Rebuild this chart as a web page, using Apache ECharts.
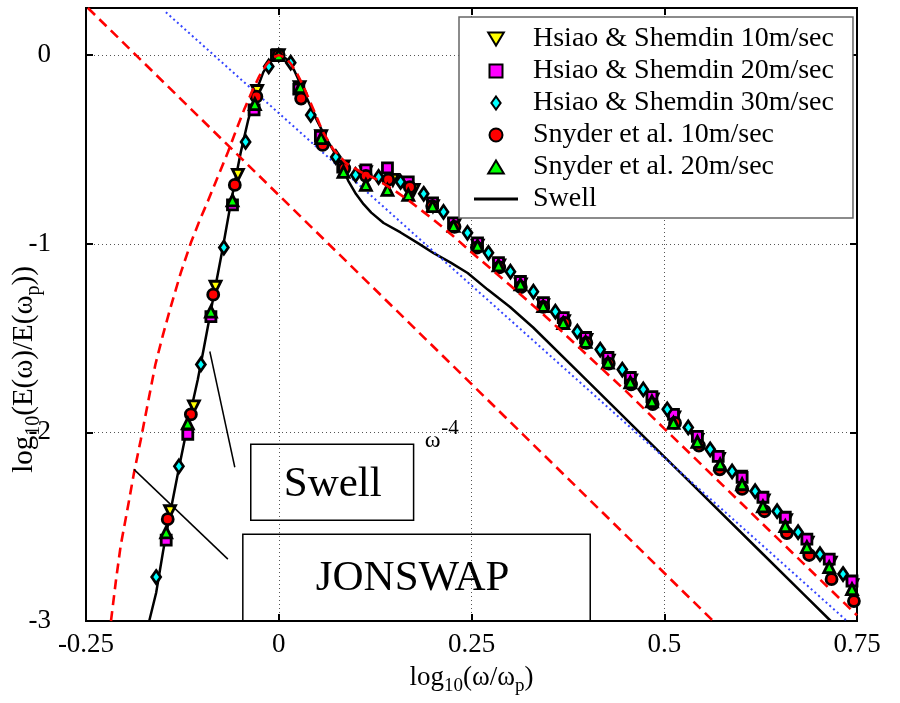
<!DOCTYPE html>
<html><head><meta charset="utf-8">
<script src="https://cdn.jsdelivr.net/npm/echarts@6/dist/echarts.min.js"></script>
<style>html,body{margin:0;padding:0;background:#fff}#c{width:900px;height:703px}</style>
</head><body><div id="c"></div><script>
// ---- data (x = log10(w/wp), y = log10(E(w)/E(wp))) ----
const xTickValues = [-0.25, 0, 0.25, 0.5, 0.75];
const yTickValues = [-3, -2, -1, 0];

const hsiao10 = [[-0.141,-2.418],[-0.110,-1.862],[-0.082,-1.228],[-0.053,-0.635],[-0.028,-0.19],[0.0,0.0],
 [0.027,-0.17],[0.055,-0.43],[0.084,-0.59],[0.113,-0.62],[0.148,-0.661],[0.175,-0.714],[0.200,-0.80],[0.228,-0.90],
 [0.258,-1.01],[0.286,-1.115],[0.314,-1.215],[0.343,-1.325],[0.370,-1.41],[0.399,-1.51],[0.428,-1.62],[0.457,-1.725],
 [0.485,-1.825],[0.513,-1.92],[0.543,-2.04],[0.571,-2.14],[0.599,-2.235],[0.629,-2.36],[0.658,-2.465],[0.686,-2.585],
 [0.716,-2.69],[0.744,-2.81]];
const hsiao20 = [[-0.146,-2.571],[-0.118,-2.01],[-0.088,-1.386],[-0.060,-0.794],[-0.032,-0.29],[-0.003,0.0],
 [0.026,-0.18],[0.054,-0.43],[0.083,-0.593],[0.113,-0.608],[0.141,-0.598],[0.168,-0.672],[0.1995,-0.783],[0.2267,-0.889],
 [0.2578,-0.995],[0.285,-1.10],[0.3135,-1.20],[0.3433,-1.312],[0.369,-1.392],[0.398,-1.497],[0.427,-1.603],[0.456,-1.709],
 [0.484,-1.81],[0.512,-1.905],[0.543,-2.021],[0.570,-2.127],[0.601,-2.238],[0.628,-2.344],[0.657,-2.45],[0.685,-2.566],
 [0.714,-2.672],[0.7435,-2.788]];
const hsiao30 = [[-0.159,-2.767],[-0.1295,-2.18],[-0.101,-1.64],[-0.0712,-1.02],[-0.043,-0.46],[-0.013,-0.06],
 [0.0155,-0.04],[0.0415,-0.317],[0.074,-0.54],[0.0997,-0.635],[0.1295,-0.646],[0.158,-0.672],[0.188,-0.735],[0.2137,-0.831],
 [0.2448,-0.942],[0.272,-1.048],[0.3005,-1.148],[0.3303,-1.254],[0.3588,-1.36],[0.3873,-1.466],[0.417,-1.561],[0.4456,-1.667],
 [0.4728,-1.772],[0.5039,-1.878],[0.5311,-1.974],[0.5596,-2.09],[0.588,-2.207],[0.6179,-2.312],[0.6464,-2.418],[0.6736,-2.529],
 [0.702,-2.646],[0.7319,-2.751]];
const snyder10 = [[-0.144,-2.46],[-0.114,-1.905],[-0.085,-1.27],[-0.057,-0.688],[-0.029,-0.22],[0.0,0.0],
 [0.029,-0.23],[0.057,-0.476],[0.085,-0.60],[0.113,-0.64],[0.142,-0.66],[0.170,-0.70],[0.199,-0.80],[0.228,-0.91],
 [0.257,-1.02],[0.286,-1.125],[0.314,-1.23],[0.343,-1.335],[0.371,-1.42],[0.399,-1.525],[0.428,-1.635],[0.457,-1.745],
 [0.485,-1.85],[0.514,-1.95],[0.545,-2.07],[0.572,-2.196],[0.601,-2.30],[0.630,-2.418],[0.659,-2.534],[0.688,-2.65],
 [0.717,-2.778],[0.746,-2.894]];
const snyder20 = [[-0.146,-2.53],[-0.118,-1.952],[-0.088,-1.36],[-0.060,-0.77],[-0.031,-0.26],[0.0,0.0],
 [0.028,-0.17],[0.055,-0.44],[0.084,-0.619],[0.113,-0.688],[0.141,-0.714],[0.168,-0.741],[0.1995,-0.80],[0.2267,-0.905],
 [0.2578,-1.01],[0.285,-1.115],[0.3135,-1.215],[0.343,-1.33],[0.369,-1.42],[0.398,-1.52],[0.427,-1.63],[0.456,-1.735],
 [0.484,-1.835],[0.512,-1.95],[0.543,-2.05],[0.5725,-2.169],[0.601,-2.275],[0.628,-2.392],[0.657,-2.497],[0.685,-2.608],
 [0.714,-2.714],[0.7435,-2.831]];
const swell = [[-0.168,-3],[-0.159,-2.85],[-0.150,-2.63],[-0.140,-2.41],[-0.129,-2.18],[-0.118,-1.96],[-0.105,-1.72],
 [-0.097,-1.55],[-0.0855,-1.30],[-0.0725,-1.02],[-0.062,-0.78],[-0.049,-0.51],[-0.040,-0.35],[-0.030,-0.20],[-0.020,-0.09],
 [-0.010,-0.025],[0,0],[0.010,-0.02],[0.020,-0.08],[0.030,-0.17],[0.040,-0.26],[0.050,-0.35],[0.060,-0.43],[0.070,-0.50],
 [0.080,-0.575],[0.090,-0.665],[0.100,-0.735],[0.110,-0.79],[0.120,-0.835],[0.136,-0.89],[0.158,-0.94],[0.18,-0.995],
 [0.201,-1.05],[0.223,-1.10],[0.245,-1.155],[0.271,-1.243],[0.30,-1.335],[0.33,-1.444],[0.395,-1.706],[0.46,-1.968],
 [0.5466,-2.317],[0.62,-2.613],[0.68,-2.855],[0.716,-3]];
const jonswap = [[-0.2176,-3],[-0.211,-2.78],[-0.205,-2.6],[-0.195,-2.38],[-0.188,-2.22],[-0.179,-2.04],[-0.170,-1.85],
 [-0.160,-1.64],[-0.150,-1.48],[-0.140,-1.333],[-0.127,-1.153],[-0.114,-0.995],[-0.103,-0.88],[-0.092,-0.775],[-0.079,-0.645],
 [-0.066,-0.515],[-0.055,-0.395],[-0.045,-0.29],[-0.035,-0.195],[-0.025,-0.11],[-0.016,-0.05],[-0.008,-0.013],[0,0],
 [0.008,-0.012],[0.0155,-0.045],[0.024,-0.10],[0.0324,-0.169],[0.0453,-0.291],[0.057,-0.405],[0.0699,-0.495],
 [0.0868,-0.571],[0.1062,-0.619],[0.128,-0.661],[0.149,-0.714],[0.171,-0.778],[0.2,-0.87],[0.225,-0.955],[0.25,-1.045],
 [0.3,-1.22],[0.35,-1.40],[0.4,-1.59],[0.45,-1.78],[0.5,-1.98],[0.55,-2.178],[0.6,-2.376],[0.65,-2.574],[0.7,-2.772],[0.75,-2.97]];
const omega4Line = [[-0.2475,0.25],[0.5635,-3]];
const blueLine = [[-0.1464,0.2275],[0.737,-3]];

// annotation anchors (data units)
const swellBox = [[-0.0363,-2.063],[0.1749,-2.466]];
const jonBox = [[-0.0466,-2.54],[0.404,-3.0]];
const swellPtr = [[-0.0894,-1.571],[-0.057,-2.185]];
const jonPtr = [[-0.1878,-2.196],[-0.066,-2.672]];
const swellText = [0.07,-2.275];
const jonText = [0.1736,-2.778];
const omegaPos = [0.1995,-2.042];
const expPos = [0.222,-1.978];

const FONT = 'Liberation Serif';
const chart = echarts.init(document.getElementById('c'), null, {renderer:'canvas'});
const mk = (c) => ({color:c, borderColor:'#000', borderWidth:2.8, opacity:1});
const axisCommon = {
  type:'value',
  axisLine:{show:true, onZero:false, lineStyle:{color:'#000', width:2}},
  axisTick:{show:true, inside:true, length:7, lineStyle:{color:'#000', width:2}},
};
const subRich = {n:{fontSize:27, fontFamily:FONT, color:'#000'}, s:{fontSize:19, fontFamily:FONT, color:'#000', padding:[18,0,0,0]}};
const subRichY = {n:{fontSize:29, fontFamily:FONT, color:'#000'}, s:{fontSize:20, fontFamily:FONT, color:'#000', padding:[19,0,0,0]}};
const xMain = Object.assign({}, axisCommon, {min:-0.25, max:0.75, interval:0.25, position:'bottom',
  axisLabel:{show:true, margin:10, color:'#000', fontFamily:FONT, fontSize:27,
    formatter:(v)=> xTickValues.includes(+(+v).toFixed(2)) ? String(+(+v).toFixed(2)) : ''},
  splitLine:{show:true, lineStyle:{color:'#555', type:[1,3], width:1}},
  name:'{n|log}{s|10}{n|(ω/ω}{s|p}{n|)}', nameLocation:'middle', nameGap:38, nameMoveOverlap:false,
  nameTextStyle:{rich:subRich}
});
const xTop = Object.assign({}, axisCommon, {min:-0.25, max:0.75, interval:0.25, position:'top',
  axisLabel:{show:false}, splitLine:{show:false}});
const yMain = Object.assign({}, axisCommon, {min:-3, max:0.25, interval:1, position:'left',
  axisLabel:{show:true, margin:35, color:'#000', fontFamily:FONT, fontSize:27, showMaxLabel:false,
    formatter:(v)=> (yTickValues.includes(Math.round(v)) && Math.abs(v-Math.round(v))<1e-6) ? String(Math.round(v)) : ''},
  splitLine:{show:true, lineStyle:{color:'#555', type:[1,3], width:1}},
  name:'{n|log}{s|10}{n|(E(ω)/E(ω}{s|p}{n|))}', nameLocation:'middle', nameGap:42, nameRotate:90, nameMoveOverlap:false,
  nameTextStyle:{rich:subRichY, padding:[0,110,0,0]}
});
const yRight = Object.assign({}, axisCommon, {min:-3, max:0.25, interval:1, position:'right',
  axisLabel:{show:false}, splitLine:{show:false}});

const seriesNames = ['Hsiao & Shemdin 10m/sec','Hsiao & Shemdin 20m/sec','Hsiao & Shemdin 30m/sec','Snyder et al. 10m/sec','Snyder et al. 20m/sec','Swell'];
const legendIcons = [
  'path://M0,0L12,0L6,10Z',
  'path://M0,0L10,0L10,10L0,10Z',
  'path://M5,0L10,7L5,14L0,7Z',
  'path://M0,5A5,5 0 1,0 10,5A5,5 0 1,0 0,5Z',
  'path://M6,0L12,10L0,10Z',
  'path://M0,0L44,0L44,3L0,3Z'
];

const option = {
  animation:false,
  backgroundColor:'#fff',
  grid:{left:86, right:43, top:8, bottom:82, containLabel:false, outerBoundsMode:'none',
    show:true, borderColor:'#000', borderWidth:2, backgroundColor:'transparent'},
  xAxis:[xMain, xTop],
  yAxis:[yMain, yRight],
  legend:{
    orient:'vertical', left:459, top:17, padding:[8,19,5,15], itemGap:4, itemWidth:44, itemHeight:13,
    symbolKeepAspect:true,
    backgroundColor:'#fff', borderColor:'#666', borderWidth:1.5, borderRadius:0,
    textStyle:{fontFamily:FONT, fontSize:28, color:'#000', lineHeight:28, padding:[0,0,0,10]},
    data: seriesNames.map((n,i)=>({name:n, icon:legendIcons[i]})),
    selectedMode:false
  },
  series:[
    {name:'Swell', type:'line', data:swell, symbol:'none', smooth:false, z:2,
      lineStyle:{color:'#000', width:2.5}, itemStyle:{color:'#000', borderWidth:0}},
    {name:seriesNames[0], type:'scatter', data:hsiao10, symbol:'triangle', symbolRotate:180, symbolSize:11, z:3, itemStyle:mk('#ffff00')},
    {name:seriesNames[1], type:'scatter', data:hsiao20, symbol:'rect', symbolSize:10, z:3, itemStyle:mk('#ff00ff')},
    {name:seriesNames[2], type:'scatter', data:hsiao30, symbol:'diamond', symbolSize:[9,13], z:3, itemStyle:mk('#00ffff')},
    {name:seriesNames[3], type:'scatter', data:snyder10, symbol:'circle', symbolSize:11, z:3, itemStyle:mk('#ff0000')},
    {name:seriesNames[4], type:'scatter', data:snyder20, symbol:'triangle', symbolSize:11, z:3, itemStyle:mk('#00ff00')},
    {name:'JONSWAP', type:'line', data:jonswap, symbol:'none', smooth:false, z:4,
      lineStyle:{color:'#ff0000', width:2.6, type:[10,6]}},
    {name:'w4', type:'line', data:omega4Line, symbol:'none', z:4, lineStyle:{color:'#ff0000', width:2.6, type:[10,6]}},
    {name:'blue', type:'line', data:blueLine, symbol:'none', z:2, lineStyle:{color:'#3344ff', width:2, type:[2,3]}}
  ]
};
chart.setOption(option);

const P = (d) => chart.convertToPixel({gridIndex:0}, d);
function rectFrom(b){const a=P(b[0]), c=P(b[1]); return {x:Math.min(a[0],c[0]), y:Math.min(a[1],c[1]), width:Math.abs(c[0]-a[0]), height:Math.abs(c[1]-a[1])};}
function lineFrom(b){const a=P(b[0]), c=P(b[1]); return {x1:a[0], y1:a[1], x2:c[0], y2:c[1]};}
const sT = P(swellText), jT = P(jonText), oP = P(omegaPos), eP = P(expPos);
chart.setOption({graphic:[
  {type:'rect', shape:rectFrom(swellBox), style:{fill:'none', stroke:'#000', lineWidth:1.5}, z:10},
  {type:'rect', shape:rectFrom(jonBox), style:{fill:'none', stroke:'#000', lineWidth:1.5}, z:10},
  {type:'line', shape:lineFrom(swellPtr), style:{stroke:'#000', lineWidth:1.5}, z:10},
  {type:'line', shape:lineFrom(jonPtr), style:{stroke:'#000', lineWidth:1.5}, z:10},
  {type:'text', x:sT[0], y:sT[1], style:{text:'Swell', fontFamily:FONT, fontSize:43, fill:'#000', align:'center', verticalAlign:'middle'}, z:10},
  {type:'text', x:jT[0], y:jT[1], style:{text:'JONSWAP', fontFamily:FONT, fontSize:43, fill:'#000', align:'center', verticalAlign:'middle'}, z:10},
  {type:'text', x:oP[0], y:oP[1], style:{text:'ω', fontFamily:FONT, fontSize:24, fill:'#000', align:'center', verticalAlign:'middle'}, z:10},
  {type:'text', x:eP[0], y:eP[1], style:{text:'-4', fontFamily:FONT, fontSize:21, fill:'#000', align:'center', verticalAlign:'middle'}, z:10}
]});
</script></body></html>
